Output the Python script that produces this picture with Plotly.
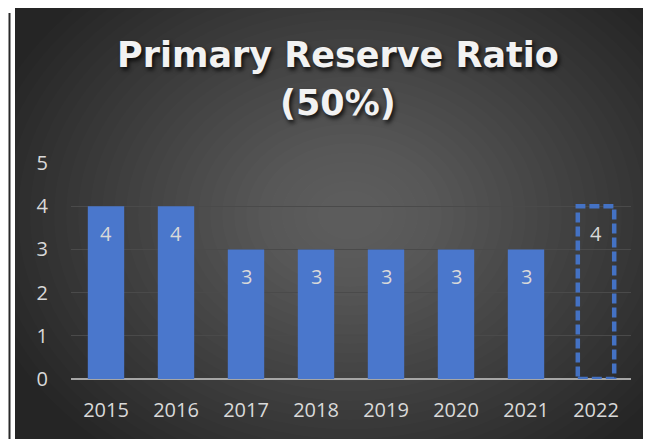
import plotly.graph_objects as go

years = ["2015", "2016", "2017", "2018", "2019", "2020", "2021", "2022"]
values = [4, 4, 3, 3, 3, 3, 3, 4]
projected = [False, False, False, False, False, False, False, True]
title_lines = ["Primary Reserve Ratio", "(50%)"]

OFF = 8  # page body margin
W, H = 651, 439
L, T = 71 - OFF, 163 - OFF
pw, ph = 560, 216
R = W - L - pw
B = H - T - ph

def px_x(p):
    return (p - OFF - L) / pw

def px_y(p):
    return (T + ph - (p - OFF)) / ph

BLUE = "#4a77cc"
fills = ["rgba(0,0,0,0)" if p else BLUE for p in projected]

fig = go.Figure()
fig.add_trace(go.Bar(
    x=years, y=values,
    marker=dict(color=fills, line=dict(width=0)),
    width=0.52,
    hoverinfo="x+y",
))

shapes = []
shapes.append(dict(type="rect", xref="paper", yref="paper", layer="below",
                   x0=px_x(15), x1=px_x(700), y0=px_y(5), y1=px_y(500),
                   fillcolor="#252525", line=dict(width=0)))
cx, cy = 350, 215
n = 30
for i in range(n):
    rx = 380 - i * 12
    ry = 300 - i * 9.5
    shapes.append(dict(type="circle", xref="paper", yref="paper", layer="below",
                       x0=px_x(cx - rx), x1=px_x(cx + rx),
                       y0=px_y(cy + ry), y1=px_y(cy - ry),
                       fillcolor="rgba(255,255,255,0.0115)", line=dict(width=0)))
shapes.append(dict(type="line", xref="paper", yref="paper", layer="below",
                   x0=px_x(9.5), x1=px_x(9.5), y0=px_y(13), y1=px_y(500),
                   line=dict(color="#2a2a2a", width=2)))
for i, (yr, v, p) in enumerate(zip(years, values, projected)):
    if p:
        shapes.append(dict(type="rect", xref="x", yref="y", layer="above",
                           x0=i - 0.26, x1=i + 0.26, y0=0, y1=v,
                           line=dict(color="#4472c4", width=4.5, dash="10px,4px"),
                           fillcolor="rgba(0,0,0,0)"))

annotations = []
title_y = [55, 103]
for txt, yy in zip(title_lines, title_y):
    annotations.append(dict(text="<b>" + txt + "</b>", xref="paper", yref="paper",
                            x=px_x(338), y=px_y(yy), xanchor="center", yanchor="middle",
                            showarrow=False,
                            font=dict(family="DejaVu Sans", size=35, color="#f2f2f2",
                                      shadow="2px 3px 4px rgba(0,0,0,0.8)")))
for i, v in enumerate(values):
    annotations.append(dict(text=str(v), x=i, y=v, xref="x", yref="y",
                            xanchor="center", yanchor="middle", yshift=-27, showarrow=False,
                            font=dict(color="#d9d9d9", size=20, family="Open Sans")))

fig.update_layout(
    width=W, height=H,
    margin=dict(l=L, r=R, t=T, b=B),
    paper_bgcolor="white",
    plot_bgcolor="rgba(0,0,0,0)",
    showlegend=False,
    shapes=shapes,
    annotations=annotations,
    bargap=0.48,
    xaxis=dict(type="category", range=[-0.5, len(years) - 0.5], showgrid=False,
               tickfont=dict(color="#d9d9d9", size=20, family="Open Sans"),
               ticks="", showline=False, ticklabelstandoff=17),
    yaxis=dict(range=[0, 5], dtick=1, showgrid=True, gridcolor="#4a4a4a", gridwidth=1,
               zeroline=True, zerolinecolor="#a6a6a6", zerolinewidth=2,
               tickfont=dict(color="#d9d9d9", size=20, family="Open Sans"),
               ticklabelstandoff=22),
)

fig.write_html("out.html")
